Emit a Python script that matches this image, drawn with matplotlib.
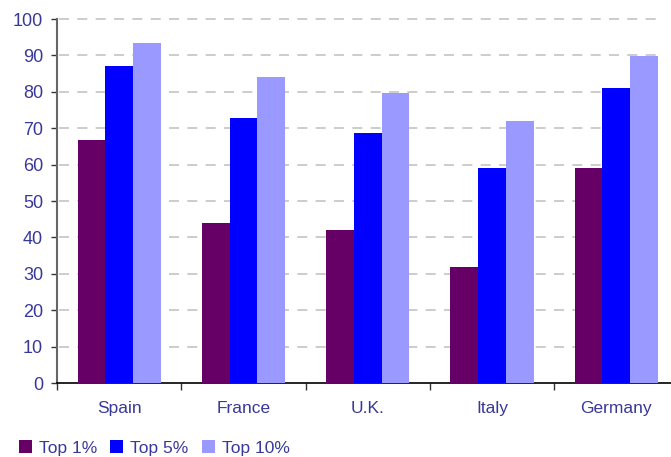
import matplotlib
matplotlib.use("Agg")
import matplotlib.pyplot as plt
from matplotlib.patches import Patch
import numpy as np

plt.rcParams["font.family"] = ["Liberation Sans", "DejaVu Sans"]

countries = ["Spain", "France", "U.K.", "Italy", "Germany"]
series = ["Top 1%", "Top 5%", "Top 10%"]
top1 = [66.7, 44.0, 42.0, 32.0, 59.0]
top5 = [87.1, 72.8, 68.7, 59.1, 81.0]
top10 = [93.4, 84.0, 79.7, 72.0, 89.8]
colors = ["#660066", "#0000ff", "#9999ff"]
label_color = "#38389a"

fig = plt.figure(figsize=(6.71, 4.57), dpi=100)
ax = fig.add_axes([57 / 671, 74 / 457, 614 / 671, 364 / 457])

x = np.arange(len(countries))
w = 0.223
for k, vals in enumerate([top1, top5, top10]):
    ax.bar(x + (k - 1) * w, vals, width=w, color=colors[k], zorder=3)

# dashed gridlines stop a little short of the right edge
for yv in range(10, 101, 10):
    ax.plot([-0.48, 4.38], [yv, yv], color="#c4c4c4", lw=1.2,
            dashes=(6, 5), zorder=1, clip_on=False)

ax.set_xlim(-0.5, 4.44)
ax.set_ylim(0, 100)
ax.set_yticks(range(0, 101, 10))
ax.set_xticks(np.arange(-0.5, 4.5, 1.0), minor=False)
ax.set_xticklabels([])
ax.set_xticks(x, minor=True)
ax.set_xticklabels(countries, minor=True)
ax.tick_params(axis="x", which="major", length=5, width=1, color="#333333", direction="out")
ax.tick_params(axis="x", which="minor", length=0, pad=13, labelsize=12.5, labelcolor=label_color)
ax.tick_params(axis="y", length=4, width=1, color="#333333", pad=6,
               labelsize=13, labelcolor=label_color)

for s in ["top", "right"]:
    ax.spines[s].set_visible(False)
ax.spines["left"].set_color("#666666")
ax.spines["left"].set_linewidth(1.5)
ax.spines["bottom"].set_color("#000000")
ax.spines["bottom"].set_linewidth(1.2)

handles = [Patch(facecolor=c, edgecolor="none") for c in colors]
fig.legend(handles, series, loc="center left", bbox_to_anchor=(14 / 671, 1 - 448 / 457),
           ncol=3, frameon=False, handlelength=0.75, handleheight=0.75,
           handletextpad=0.4, columnspacing=0.75, labelcolor=label_color,
           borderaxespad=0, borderpad=0.3, prop={"size": 12.5})

fig.savefig("out.png", dpi=100)
